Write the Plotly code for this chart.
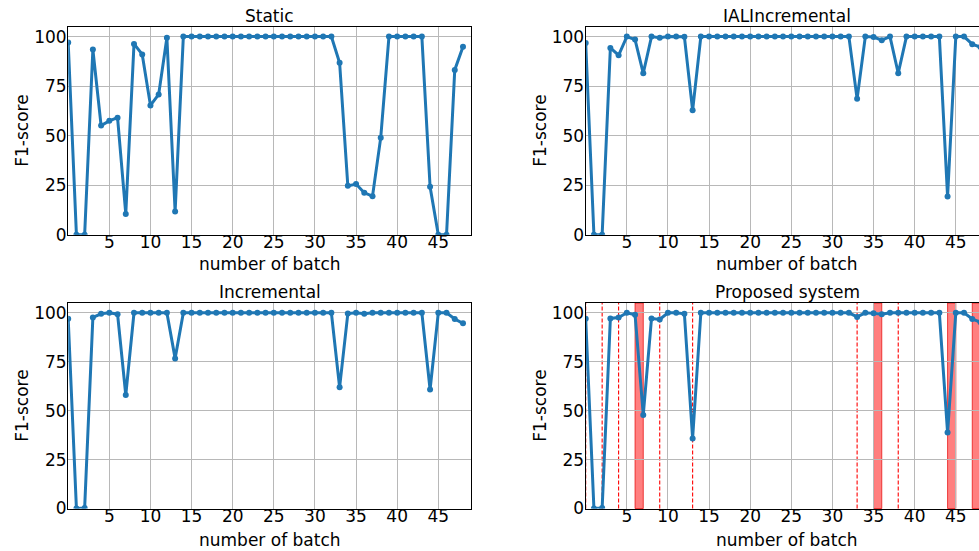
import plotly.graph_objects as go
from plotly.subplots import make_subplots

batches = list(range(49))

static = [97, 0, 0, 93.5, 55.1, 57.5, 59.1, 10.5, 96.3, 91, 65.3, 70.8, 99.4, 11.8,
          100, 100, 100, 100, 100, 100, 100, 100, 100, 100, 100, 100, 100, 100, 100, 100, 100, 100, 100,
          86.8, 24.7, 25.6, 21.2, 19.5, 49,
          100, 100, 100, 100, 100,
          24.2, 0, 0, 83.2, 94.9]

ial_incremental = [96.8, 0, 0, 94.3, 90.6, 100, 98.5, 81.5, 100, 99.4, 100, 100, 99.9, 62.8,
                   100, 100, 100, 100, 100, 100, 100, 100, 100, 100, 100, 100, 100, 100, 100, 100, 100, 100, 100,
                   68.6, 100, 99.8, 98.2, 100, 81.5,
                   100, 100, 100, 100, 100,
                   19.3, 100, 100, 96.2, 94.7]

incremental = [96.9, 0, 0.3, 97.6, 99.5, 100, 99.3, 58, 100, 100, 100, 100, 100, 76.7,
               100, 100, 100, 100, 100, 100, 100, 100, 100, 100, 100, 100, 100, 100, 100, 100, 100, 100, 100,
               61.9, 99.6, 100, 99.5, 100, 100,
               100, 100, 100, 100, 100,
               60.8, 100, 100, 96.8, 94.6]

proposed = [96.9, 0, 0.3, 97.1, 97.6, 100, 99.0, 47.8, 97.1, 96.6, 100, 100, 99.5, 35.8,
            100, 100, 100, 100, 100, 100, 100, 100, 100, 100, 100, 100, 100, 100, 100, 100, 100, 100, 100,
            97.9, 100, 99.7, 99.3, 100, 100,
            100, 100, 100, 100, 100,
            38.8, 100, 100, 96.8, 95.2]

drift_lines = [0, 2, 4, 9, 13, 33, 38]
retrain_spans = [(6, 7), (35, 36), (44, 45), (47, 48)]

titles = ["Static", "IALIncremental", "Incremental", "Proposed system"]
x_ticks = [5, 10, 15, 20, 25, 30, 35, 40, 45]
y_ticks = [0, 25, 50, 75, 100]

W, H = 979, 551
BLUE = "#1f77b4"
FONT = "DejaVu Sans"

fig = make_subplots(rows=2, cols=2)
series = [static, ial_incremental, incremental, proposed]
pos = [(1, 1), (1, 2), (2, 1), (2, 2)]
for s, (r, c) in zip(series, pos):
    fig.add_trace(go.Scatter(x=batches, y=s, mode="lines+markers",
                             line=dict(color=BLUE, width=3),
                             marker=dict(color=BLUE, size=6),
                             showlegend=False, hoverinfo="skip"), row=r, col=c)

# pixel geometry
left_x = (68.2, 471.2)
right_x0 = 585.7
scale = 403.0 / 49.0
top_y = (26.7, 234.8)
bot_y = (303.0, 508.5)

def px(x):
    return x / W

def py(y):
    return 1 - y / H

xdom = {1: [px(left_x[0]), px(left_x[1])], 2: [px(right_x0), 1.0]}
ydom = {1: [py(top_y[1]), py(top_y[0])], 2: [py(bot_y[1]), py(bot_y[0])]}
right_max = (W - right_x0) / scale

axis_common = dict(showgrid=True, gridcolor="#b8b8b8", gridwidth=1, zeroline=False,
                   showline=True, linecolor="black", linewidth=1.2, ticks="", ticklen=0,
                   automargin=False,
                   tickfont=dict(family=FONT, size=17, color="black"))

for i, (r, c) in enumerate(pos, start=1):
    xa = "xaxis" if i == 1 else f"xaxis{i}"
    ya = "yaxis" if i == 1 else f"yaxis{i}"
    xr = [0, 49] if c == 1 else [0, right_max]
    fig.layout[xa].update(domain=xdom[c], range=xr, tickvals=x_ticks, mirror=True,
                          ticklabelstandoff=-8, **axis_common)
    fig.layout[ya].update(domain=ydom[r], range=[0, 105], tickvals=y_ticks,
                          mirror=(c == 1), ticklabelstandoff=-3, **axis_common)

# annotations: titles and axis labels
ann = []
centers_x = {1: (left_x[0] + left_x[1]) / 2, 2: right_x0 + 201.5}
title_y = {1: 16, 2: 292}
xlabel_y = {1: 264, 2: 540}
ylabel_x = {1: 22, 2: 540}
for t, (r, c) in zip(titles, pos):
    ann.append(dict(text=t, x=px(centers_x[c]), y=py(title_y[r]), xref="paper", yref="paper",
                    xanchor="center", yanchor="middle", showarrow=False,
                    font=dict(family=FONT, size=17, color="black")))
    ann.append(dict(text="number of batch", x=px(centers_x[c]), y=py(xlabel_y[r]), xref="paper",
                    yref="paper", xanchor="center", yanchor="middle", showarrow=False,
                    font=dict(family=FONT, size=17, color="black")))
    yc = (top_y[0] + top_y[1]) / 2 if r == 1 else (bot_y[0] + bot_y[1]) / 2
    ann.append(dict(text="F1-score", x=px(ylabel_x[c]), y=py(yc), xref="paper", yref="paper",
                    xanchor="center", yanchor="middle", textangle=-90, showarrow=False,
                    font=dict(family=FONT, size=17, color="black")))

shapes = []
for a, b in retrain_spans:
    shapes.append(dict(type="rect", xref="x4", yref="y4 domain", x0=a, x1=b, y0=0, y1=1,
                       fillcolor="rgba(255,0,0,0.5)", line=dict(color="rgba(230,0,0,0.7)", width=1),
                       layer="below"))
for v in drift_lines:
    shapes.append(dict(type="line", xref="x4", yref="y4 domain", x0=v, x1=v, y0=0, y1=1,
                       line=dict(color="red", width=1.1, dash="4px,2px"), layer="below"))

fig.update_layout(width=W, height=H, margin=dict(l=0, r=0, t=0, b=0, autoexpand=False),
                  paper_bgcolor="white", plot_bgcolor="white",
                  annotations=ann, shapes=shapes, hovermode=False,
                  font=dict(family=FONT, color="black"))

fig.write_html("out.html", config={"displayModeBar": False},
               post_script="document.body.style.margin='0';document.body.style.overflow='hidden';")
